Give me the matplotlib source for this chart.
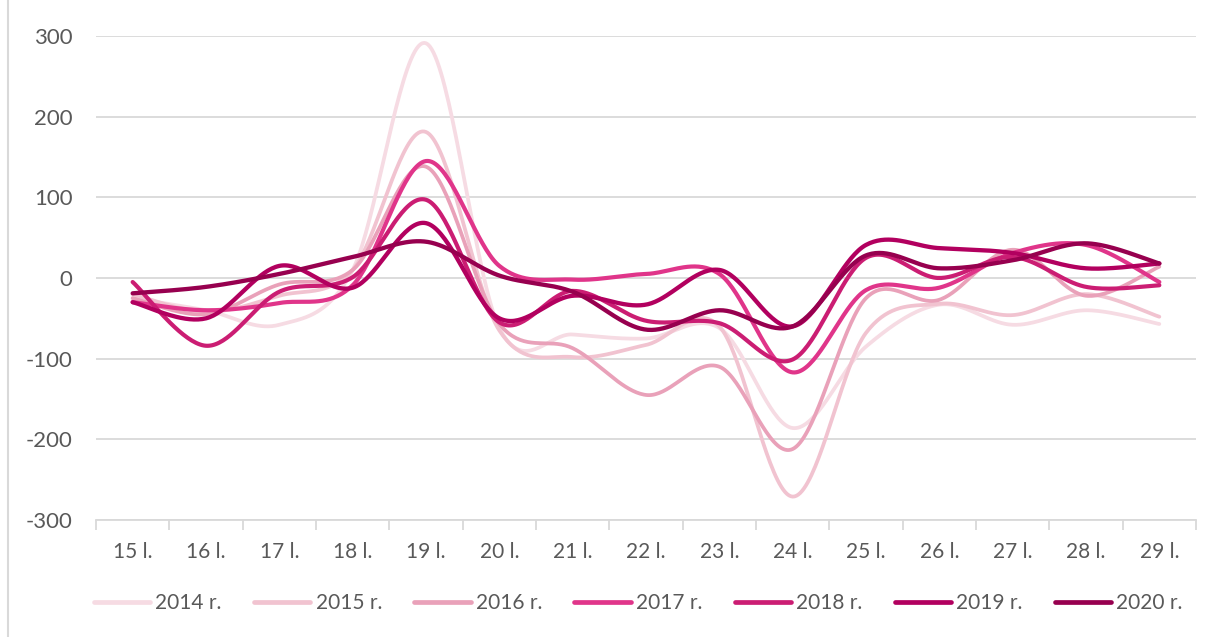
import numpy as np
import matplotlib.pyplot as plt
from matplotlib.lines import Line2D

days = ["15 l.", "16 l.", "17 l.", "18 l.", "19 l.", "20 l.", "21 l.", "22 l.",
        "23 l.", "24 l.", "25 l.", "26 l.", "27 l.", "28 l.", "29 l."]
years = ["2014 r.", "2015 r.", "2016 r.", "2017 r.", "2018 r.", "2019 r.", "2020 r."]

y2014 = [-25, -40, -58, 10, 291, -62, -70, -75, -62, -186, -85, -33, -58, -40, -57]
y2015 = [-20, -42, -22, 10, 181, -65, -98, -83, -60, -271, -68, -32, -46, -20, -48]
y2016 = [-25, -45, -8, 10, 138, -57, -87, -145, -110, -212, -25, -27, 35, -22, 14]
y2017 = [-30, -40, -31, -9, 145, 15, -2, 5, 5, -117, -15, -12, 31, 41, -5]
y2018 = [-5, -84, -17, 1, 97, -55, -16, -53, -56, -101, 25, 0, 26, -11, -9]
y2019 = [-30, -50, 15, -12, 68, -50, -22, -33, 10, -60, 41, 37, 31, 12, 18]
y2020 = [-19, -11, 5, 26, 45, 3, -17, -64, -40, -60, 28, 12, 22, 43, 18]

series = [y2014, y2015, y2016, y2017, y2018, y2019, y2020]
colors = ["#F6DBE3", "#F1C3D0", "#E9A1B9", "#E0358A", "#CB1D73", "#B2005F", "#97004F"]
widths = [2.7, 2.7, 2.7, 3.0, 3.0, 3.1, 3.1]


def smooth(vals, n=40):
    # Excel-style smoothed line: cubic bezier through the points
    p = np.asarray(vals, float)
    x = np.arange(len(p), dtype=float)
    t = np.linspace(0, 1, n)[:, None]
    out = []
    for i in range(len(p) - 1):
        a = max(i - 1, 0)
        b = min(i + 2, len(p) - 1)
        P0 = np.array([x[i], p[i]])
        P3 = np.array([x[i + 1], p[i + 1]])
        P1 = P0 + (np.array([x[i + 1], p[i + 1]]) - np.array([x[a], p[a]])) / 6
        P2 = P3 - (np.array([x[b], p[b]]) - np.array([x[i], p[i]])) / 6
        seg = ((1 - t) ** 3) * P0 + 3 * ((1 - t) ** 2) * t * P1 + 3 * (1 - t) * t ** 2 * P2 + t ** 3 * P3
        out.append(seg if i == 0 else seg[1:])
    seg = np.vstack(out)
    return seg[:, 0], seg[:, 1]


plt.rcParams['font.family'] = ['Lato', 'DejaVu Sans']
plt.rcParams['axes.unicode_minus'] = False
fig = plt.figure(figsize=(12.18, 6.37), dpi=100)
ax = fig.add_axes([96 / 1218, 1 - 520 / 637, 1100 / 1218, 484 / 637])

for vals, c, lw in zip(series, colors, widths):
    xs, ys = smooth(vals)
    ax.plot(xs, ys, color=c, lw=lw, solid_capstyle='round')

ax.set_xlim(-0.5, len(days) - 0.5)
ax.set_ylim(-300, 300)
ax.set_yticks(range(-300, 301, 100))
ax.grid(axis='y', color='#D9D9D9', lw=1.3)
ax.set_axisbelow(True)

ax.set_xticks(range(len(days)))
ax.set_xticklabels(days)
ax.set_xticks(np.arange(-0.5, len(days), 1), minor=True)
ax.tick_params(axis='x', which='major', length=0, pad=16, labelsize=15, labelcolor='#595959')
ax.tick_params(axis='x', which='minor', length=7, color='#D9D9D9', width=1.3)
ax.tick_params(axis='y', length=0, pad=17, labelsize=16, labelcolor='#595959')

for s in ['top', 'right', 'left']:
    ax.spines[s].set_visible(False)
ax.spines['bottom'].set_color('#D9D9D9')
ax.spines['bottom'].set_linewidth(1.3)

handles = [Line2D([], [], color=c, lw=3.4, solid_capstyle='round') for c in colors]
fig.legend(handles, years, loc='center', bbox_to_anchor=(0.524, 1 - 603 / 637), ncol=7,
           frameon=False, fontsize=15, handlelength=2.7, handletextpad=0.25,
           columnspacing=1.55, labelcolor='#595959')

fig.add_artist(Line2D([8 / 1218, 8 / 1218], [0, 1], color='#D9D9D9', lw=1.5))

fig.savefig("out.png", dpi=100)
